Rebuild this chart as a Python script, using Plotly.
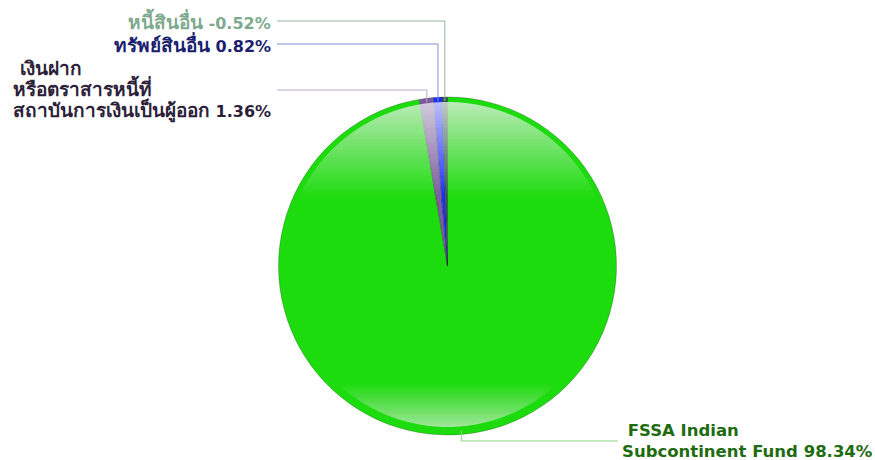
import math
import plotly.graph_objects as go

# ---- data ----
label_lines = [["\u00a0FSSA Indian", "Subcontinent Fund"],
               ["\u00a0เงินฝาก", "หรือตราสารหนี้ที่", "สถาบันการเงินเป็นผู้ออก"],
               ["ทรัพย์สินอื่น"],
               ["หนี้สินอื่น"]]
percents = [98.34, 1.36, 0.82, -0.52]
slice_colors = ["#1ddc0e", "#7b5c9f", "#1a30ff", "#2d5e45"]
label_colors = ["#1e6b10", "#2d1f3a", "#1b1f6e", "#80aa8e"]
line_colors = ["#8fd386", "#bba6cc", "#7f8fd6", "#93b39e"]
thai_label = [False, True, True, True]

# ---- geometry ----
W, H = 875, 460
CX, CY, R = 447.5, 266.0, 169.0
ML, MR, MT, MB = 0, 0, int(CY - R), int(H - (CY + R))
PW, PH = W - ML - MR, H - MT - MB


def px(x):
    return (x - ML) / PW


def py(y):
    return 1 - (y - MT) / PH


values = [abs(v) for v in percents]
fig = go.Figure(go.Pie(
    labels=[" ".join(l).strip() for l in label_lines],
    values=values,
    marker=dict(colors=slice_colors, line=dict(color="rgba(0,0,0,0.22)", width=1)),
    sort=False, direction="clockwise", rotation=0,
    textinfo="none", hoverinfo="label+percent", showlegend=False,
    domain=dict(x=[px(CX - R), px(CX + R)], y=[0, 1]),
))

shapes = []


def seg_path(ri, ycut, top=True, n=60):
    d = (CY - ycut) if top else (ycut - CY)
    d = max(-ri, min(ri, d))
    phi0 = math.acos(d / ri)
    pts = []
    for i in range(n + 1):
        phi = -phi0 + 2 * phi0 * i / n
        x = CX + ri * math.sin(phi)
        y = CY - ri * math.cos(phi) if top else CY + ri * math.cos(phi)
        pts.append(f"{px(x):.5f},{py(y):.5f}")
    return "M" + " L".join(pts) + " Z"


def gradient(ri, y_edge, y_end, wmax, top, n=26):
    targets = [wmax * (1 - (j - 0.5) / n) for j in range(1, n + 1)]
    alphas = [0.0] * n
    for j in range(n - 1, -1, -1):
        nxt = targets[j + 1] if j + 1 < n else 0.0
        alphas[j] = 1 - (1 - targets[j]) / (1 - nxt)
    for k in range(1, n + 1):
        ycut = y_edge + (y_end - y_edge) * k / n
        shapes.append(dict(type="path", path=seg_path(ri, ycut, top),
                           xref="paper", yref="paper", layer="above",
                           fillcolor=f"rgba(255,255,255,{alphas[k-1]:.4f})",
                           line=dict(width=0)))


gradient(164, CY - 164, 198, 0.74, True)
gradient(161, CY + 161, 383, 0.62, False)

# ---- leader lines and labels ----
total = sum(values)
cum = 0.0
label_y = [441, 90, 44, 21]
for i, v in enumerate(values):
    mid = (cum + v / 2) / total * 2 * math.pi
    cum += v
    rs = R - 4
    x0 = CX + rs * math.sin(mid)
    y0 = CY - rs * math.cos(mid)
    ly = label_y[i]
    if i == 0:
        xe = 618
        anchor, ax = "left", 620
    else:
        xe = 277
        anchor, ax = "right", 273
    shapes.append(dict(type="path", xref="paper", yref="paper", layer="above",
                       path=f"M{px(x0):.5f},{py(y0):.5f} L{px(x0):.5f},{py(ly):.5f} L{px(xe):.5f},{py(ly):.5f}",
                       line=dict(color=line_colors[i], width=1)))
    if thai_label[i]:
        parts = [f"<span style='font-size:19px'>{t}</span>" for t in label_lines[i]]
    else:
        parts = list(label_lines[i])
    parts[-1] = parts[-1] + f" {percents[i]:.2f}%"
    txt = "<b>" + "<br>".join(parts) + "</b>"
    fig.add_annotation(x=px(ax), y=py(ly), xref="paper", yref="paper",
                       text=txt, showarrow=False, xanchor=anchor, yanchor="middle",
                       align="left",
                       font=dict(family="DejaVu Sans, Verdana, sans-serif",
                                 size=16.5 if i == 0 else 16,
                                 color=label_colors[i]))

fig.update_layout(
    width=W, height=H,
    margin=dict(l=ML, r=MR, t=MT, b=MB),
    paper_bgcolor="white", plot_bgcolor="white",
    shapes=shapes,
)
fig.write_html("out.html", config={"displayModeBar": False},
               post_script="document.body.style.margin='0';document.body.style.padding='0';")
